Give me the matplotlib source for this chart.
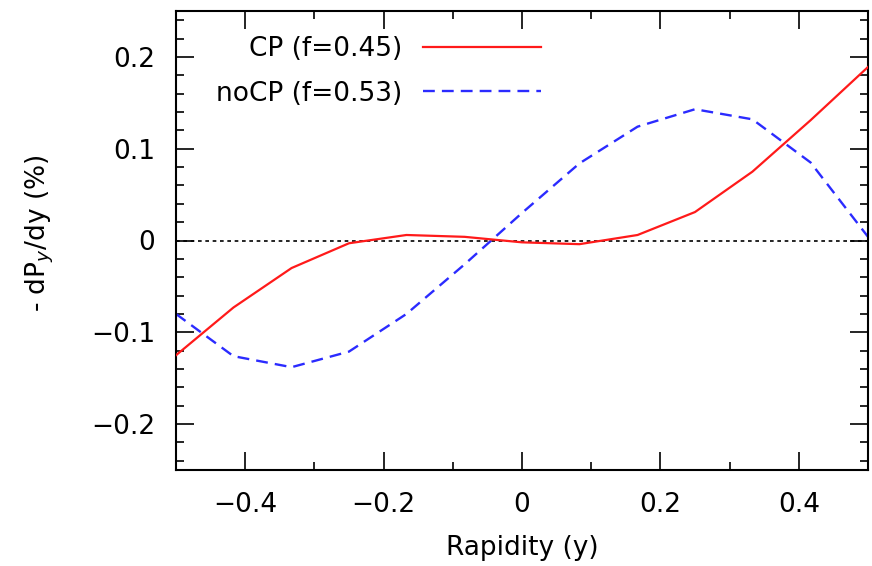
import matplotlib
matplotlib.use("Agg")
import matplotlib.pyplot as plt
from matplotlib.ticker import MultipleLocator, FixedLocator, FixedFormatter

plt.rcParams["font.family"] = ["DejaVu Sans"]

# ── Data ───────────────────────────────────────────────────────────────────────
rapidity = [-0.5, -0.417, -0.333, -0.25, -0.167, -0.083, 0.0,
            0.083, 0.167, 0.25, 0.333, 0.417, 0.5]
cp_vals = [-0.125, -0.073, -0.030, -0.003, 0.006, 0.004, -0.002,
           -0.004, 0.006, 0.031, 0.075, 0.131, 0.189]
nocp_vals = [-0.080, -0.126, -0.138, -0.121, -0.080, -0.026, 0.030,
             0.084, 0.124, 0.143, 0.132, 0.085, 0.004]

cp_label = "CP (f=0.45)"
nocp_label = "noCP (f=0.53)"

xticks = [-0.4, -0.2, 0.0, 0.2, 0.4]
xticklabels = ["\u22120.4", "\u22120.2", "0", "0.2", "0.4"]
yticks = [-0.2, -0.1, 0.0, 0.1, 0.2]
yticklabels = ["\u22120.2", "\u22120.1", "0", "0.1", "0.2"]

FS = 19

# ── Figure ─────────────────────────────────────────────────────────────────────
fig = plt.figure(figsize=(8.72, 5.66), dpi=100)
ax = fig.add_axes([176 / 872, 1 - 470 / 566, 692 / 872, 459 / 566])

ax.axhline(0, color="black", lw=1.2, ls=(0, (2.2, 2.2)), zorder=1)
ax.plot(rapidity, cp_vals, color="#ff1a1a", lw=1.6, label=cp_label, zorder=3)
ax.plot(rapidity, nocp_vals, color="#2b2bff", lw=1.7, ls=(0, (5, 3)),
        label=nocp_label, zorder=2)

ax.set_xlim(-0.5, 0.5)
ax.set_ylim(-0.25, 0.25)

ax.xaxis.set_major_locator(FixedLocator(xticks))
ax.xaxis.set_major_formatter(FixedFormatter(xticklabels))
ax.xaxis.set_minor_locator(MultipleLocator(0.1))
ax.yaxis.set_major_locator(FixedLocator(yticks))
ax.yaxis.set_major_formatter(FixedFormatter(yticklabels))
ax.yaxis.set_minor_locator(MultipleLocator(0.02))

ax.tick_params(which="both", direction="in", top=True, right=True,
               labelsize=FS, width=1.2, color="black")
ax.tick_params(which="major", length=13)
ax.tick_params(which="minor", length=6)
ax.tick_params(axis="y", which="major", pad=15)
ax.tick_params(axis="x", which="major", pad=16)
for s in ax.spines.values():
    s.set_linewidth(1.5)

ax.set_xlabel("Rapidity (y)", fontsize=FS, labelpad=12)
fig.text(40 / 872, 1 - 233 / 566, "- dP$_y$/dy (%)", rotation=90,
         fontsize=FS, ha="center", va="center")

leg = ax.legend(loc="upper right", bbox_to_anchor=(0.528, 0.945),
                frameon=False, markerfirst=False, fontsize=FS,
                handlelength=4.5, handletextpad=0.76, labelspacing=0.7,
                borderaxespad=0, borderpad=0)

fig.savefig("out.png", dpi=100)
